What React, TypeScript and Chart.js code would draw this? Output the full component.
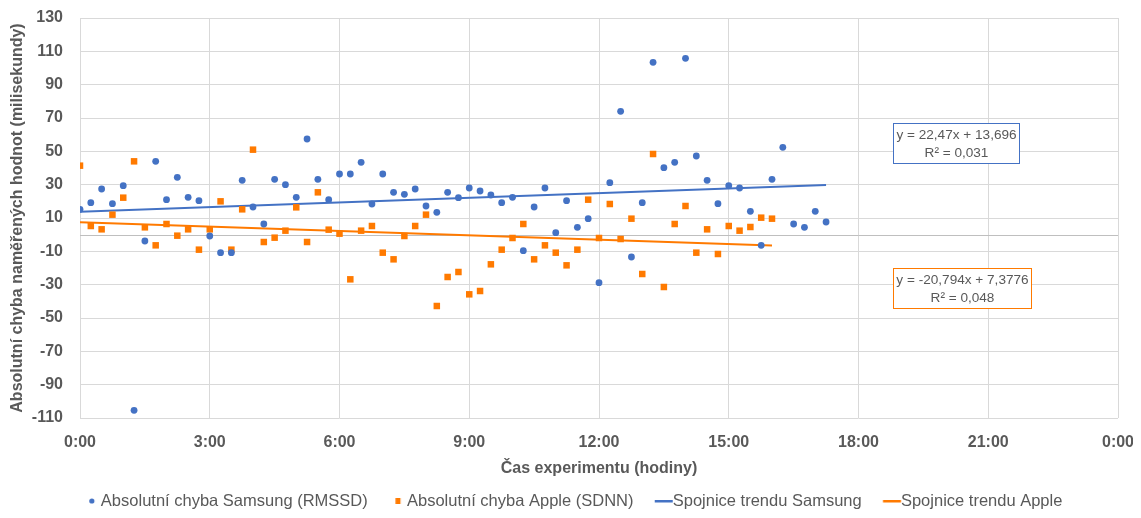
import React, { useEffect, useRef } from "react";
import { Chart, registerables } from "chart.js";

Chart.register(...registerables);

// Samples were taken every 15 minutes from the start of the experiment.
const SAMPLE_STEP_MINUTES = 15;

// Absolute error of the Samsung watch (RMSSD), ms
const samsungError = [
  15.2, 19.2, 27.4, 18.6, 29.4, -105.4, -3.8, 44.0, 21.0, 34.4,
  22.4, 20.4, -0.8, -10.8, -10.8, 32.6, 16.6, 6.4, 33.2, 30.0,
  22.4, 57.4, 33.2, 21.0, 36.4, 36.4, 43.4, 18.4, 36.4, 25.4,
  24.2, 27.4, 17.2, 13.4, 25.4, 22.2, 28.0, 26.2, 23.8, 19.2,
  22.4, -9.6, 16.6, 28.0, 1.2, 20.4, 4.4, 9.6, -28.8, 31.2,
  74.0, -13.4, 19.2, 103.4, 40.2, 43.4, 105.8, 47.2, 32.6, 18.6,
  29.4, 28.0, 14.0, -6.4, 33.2, 52.4, 6.4, 4.4, 14.0, 7.6,
];

// Absolute error of the Apple watch (SDNN), ms
const appleError = [
  41.4, 5.2, 3.2, 12.0, 22.2, 44.0, 4.4, -6.4, 6.4, -0.6,
  3.2, -9.0, 3.2, 20.0, -9.0, 15.2, 51.0, -4.4, -1.8, 2.4,
  16.4, -4.4, 25.4, 3.0, 0.6, -26.8, 2.4, 5.2, -10.8, -14.8,
  -0.8, 5.2, 12.0, -42.8, -25.4, -22.4, -35.8, -33.8, -17.8, -9.0,
  -2.0, 6.4, -14.8, -6.4, -10.8, -18.4, -9.0, 21.0, -2.0, 18.4,
  -2.6, 9.6, -23.6, 48.4, -31.4, 6.4, 17.2, -10.8, 3.2, -11.6,
  5.2, 2.4, 4.6, 10.2, 9.6,
];

// Linear trend lines (x measured in days, as in the spreadsheet)
const samsungTrend = { slope: 22.47, intercept: 13.696, r2: 0.031 };
const appleTrend = { slope: -20.794, intercept: 7.3776, r2: 0.048 };

const xTickHours = [0, 3, 6, 9, 12, 15, 18, 21, 24];
const yTickRange = { min: -110, max: 130, step: 20 };

const legendLabels = [
  "Absolutní chyba Samsung (RMSSD)",
  "Absolutní chyba Apple (SDNN)",
  "Spojnice trendu Samsung",
  "Spojnice trendu Apple",
];

const BLUE = "#4472C4";
const ORANGE = "#FF7A00";
const TEXT = "#595959";
const FONT = "'Liberation Sans', Arial, sans-serif";

const toHours = (i: number) => (i * SAMPLE_STEP_MINUTES) / 60;
const toPoints = (values: number[]) => values.map((v, i) => ({ x: toHours(i), y: v }));

const trendPoints = (trend: { slope: number; intercept: number }, count: number) => {
  const end = toHours(count - 1);
  return [0, end].map((h) => ({ x: h, y: trend.slope * (h / 24) + trend.intercept }));
};

const czNum = (v: number | string) => String(v).replace(".", ",");
const trendText = (t: { slope: number; intercept: number; r2: number }) => [
  `y = ${czNum(t.slope)}x + ${czNum(t.intercept)}`,
  `R² = ${czNum(t.r2.toFixed(3))}`,
];

// Equation boxes, anchored at (hours, ms) in chart coordinates
const trendBoxes = [
  { lines: trendText(samsungTrend), border: BLUE, at: { x: 20.25, y: 55 } },
  { lines: trendText(appleTrend), border: ORANGE, at: { x: 20.39, y: -32.2 } },
];

const zeroLinePlugin = {
  id: "zeroLine",
  beforeDatasetsDraw(chart: any) {
    const { ctx, chartArea, scales } = chart;
    const y = Math.round(scales.y.getPixelForValue(0)) + 0.5;
    ctx.save();
    ctx.strokeStyle = "#bfbfbf";
    ctx.lineWidth = 1;
    ctx.beginPath();
    ctx.moveTo(chartArea.left, y);
    ctx.lineTo(chartArea.right, y);
    ctx.stroke();
    ctx.restore();
  },
};

const trendBoxPlugin = {
  id: "trendBoxes",
  afterDatasetsDraw(chart: any) {
    const { ctx, scales } = chart;
    ctx.save();
    ctx.font = `13.6px ${FONT}`;
    for (const box of trendBoxes) {
      const cx = scales.x.getPixelForValue(box.at.x);
      const cy = scales.y.getPixelForValue(box.at.y);
      const w = Math.round(Math.max(...box.lines.map((l) => ctx.measureText(l).width)) + 6);
      const h = 40;
      const left = Math.round(cx - w / 2) + 0.5;
      const top = Math.round(cy - h / 2) + 0.5;
      ctx.fillStyle = "#ffffff";
      ctx.fillRect(left, top, w, h);
      ctx.strokeStyle = box.border;
      ctx.lineWidth = 1;
      ctx.strokeRect(left, top, w, h);
      ctx.fillStyle = TEXT;
      ctx.textAlign = "center";
      ctx.textBaseline = "middle";
      ctx.fillText(box.lines[0], left + w / 2, top + 12);
      ctx.fillText(box.lines[1], left + w / 2, top + 30);
    }
    ctx.restore();
  },
};

// Legend markers: drawn right-aligned so the symbol sits just before its text
function makeMarker(draw: (ctx: CanvasRenderingContext2D) => void) {
  const c = document.createElement("canvas");
  c.width = 48;
  c.height = 10;
  const ctx = c.getContext("2d")!;
  draw(ctx);
  return c;
}

export default function App() {
  const canvasRef = useRef<HTMLCanvasElement | null>(null);

  useEffect(() => {
    if (!canvasRef.current) return;

    const markers = [
      makeMarker((ctx) => {
        ctx.fillStyle = BLUE;
        ctx.beginPath();
        ctx.arc(37.75, 5, 2.6, 0, Math.PI * 2);
        ctx.fill();
      }),
      makeMarker((ctx) => {
        ctx.fillStyle = ORANGE;
        ctx.fillRect(35.25, 2, 5, 6);
      }),
      makeMarker((ctx) => {
        ctx.fillStyle = BLUE;
        ctx.fillRect(28.75, 4, 18, 2.5);
      }),
      makeMarker((ctx) => {
        ctx.fillStyle = ORANGE;
        ctx.fillRect(28.75, 4, 18, 2.5);
      }),
    ];

    const chart = new Chart(canvasRef.current, {
      type: "scatter",
      data: {
        datasets: [
          {
            label: legendLabels[0],
            data: toPoints(samsungError),
            backgroundColor: BLUE,
            borderColor: BLUE,
            borderWidth: 0,
            pointStyle: "circle",
            pointRadius: 3.4,
          },
          {
            label: legendLabels[1],
            data: toPoints(appleError),
            backgroundColor: ORANGE,
            borderColor: ORANGE,
            borderWidth: 0,
            pointStyle: "rect",
            pointRadius: 4.6,
          },
          {
            type: "line",
            label: legendLabels[2],
            data: trendPoints(samsungTrend, samsungError.length),
            borderColor: BLUE,
            backgroundColor: BLUE,
            borderWidth: 2,
            pointRadius: 0,
            showLine: true,
          },
          {
            type: "line",
            label: legendLabels[3],
            data: trendPoints(appleTrend, appleError.length),
            borderColor: ORANGE,
            backgroundColor: ORANGE,
            borderWidth: 2,
            pointRadius: 0,
            showLine: true,
          },
        ],
      } as any,
      options: {
        responsive: false,
        animation: false,
        layout: { padding: { top: 10, right: 15, bottom: -9.25, left: 0 } },
        scales: {
          x: {
            type: "linear",
            min: xTickHours[0],
            max: xTickHours[xTickHours.length - 1],
            afterFit: (scale: any) => {
              scale.height = 72.75;
              scale.paddingLeft = 0;
              scale.paddingRight = 0;
            },
            afterBuildTicks: (scale: any) => {
              scale.ticks = xTickHours.map((v) => ({ value: v }));
            },
            ticks: {
              autoSkip: false,
              maxRotation: 0,
              padding: 15,
              color: TEXT,
              font: { family: FONT, size: 16, weight: "bold" },
              callback: (v: any) => `${Number(v) % 24}:00`,
            },
            grid: { color: "#d9d9d9", lineWidth: 1, drawTicks: false },
            border: { display: false },
            title: {
              display: true,
              text: "Čas experimentu (hodiny)",
              color: TEXT,
              font: { family: FONT, size: 16, weight: "bold" },
              padding: { top: 0, bottom: 12.25 },
            },
          },
          y: {
            type: "linear",
            min: yTickRange.min,
            max: yTickRange.max,
            afterFit: (scale: any) => {
              scale.width = 72;
              scale.paddingTop = 0;
              scale.paddingBottom = 0;
            },
            ticks: {
              stepSize: yTickRange.step,
              padding: 17,
              color: TEXT,
              font: { family: FONT, size: 16, weight: "bold" },
            },
            grid: { color: "#d9d9d9", lineWidth: 1, drawTicks: false },
            border: { display: false },
            title: {
              display: true,
              text: "Absolutní chyba naměřených hodnot (milisekundy)",
              color: TEXT,
              font: { family: FONT, size: 16, weight: "bold" },
              padding: { top: 0, bottom: 0 },
            },
          },
        },
        plugins: {
          legend: {
            position: "bottom",
            labels: {
              usePointStyle: true,
              pointStyleWidth: 29,
              padding: 2,
              color: TEXT,
              font: { family: FONT, size: 16.5 },
              generateLabels: (c: any) =>
                (Chart.defaults.plugins.legend.labels as any)
                  .generateLabels(c)
                  .map((item: any, i: number) => ({ ...item, pointStyle: markers[i] })),
            },
          },
          tooltip: { enabled: false },
        },
      } as any,
      plugins: [zeroLinePlugin, trendBoxPlugin],
    });

    return () => chart.destroy();
  }, []);

  return (
    <canvas
      ref={canvasRef}
      width={1125}
      height={502}
      style={{ display: "block", width: 1125, height: 502 }}
    />
  );
}
